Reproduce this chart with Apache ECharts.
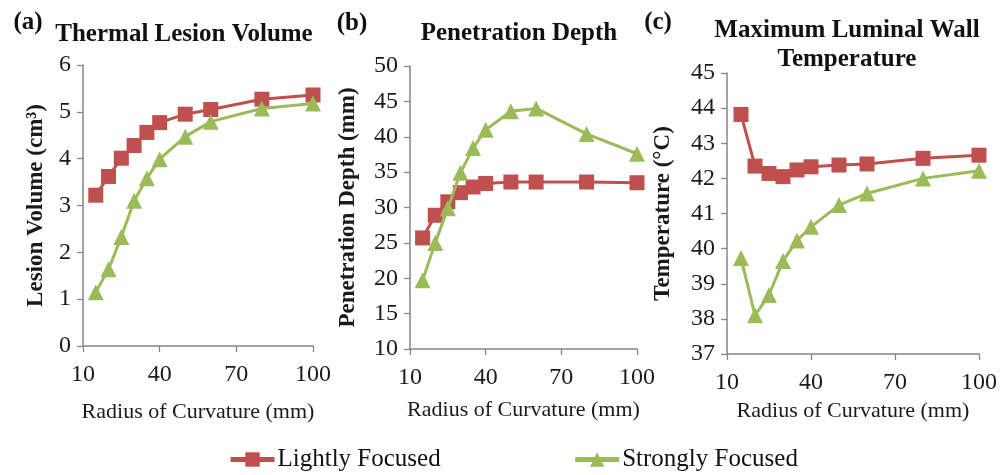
<!doctype html>
<html>
<head>
<meta charset="UTF-8">
<title>Radius of curvature</title>
<script src="https://cdn.jsdelivr.net/npm/echarts@6/dist/echarts.min.js"></script>
<style>
  html, body { margin: 0; padding: 0; background: #fff; }
  #main { width: 1003px; height: 475px; }
</style>
</head>
<body>
<div id="main"></div>
<script type="text/javascript">
// radius of curvature (mm)
var radius = [15, 20, 25, 30, 35, 40, 50, 60, 80, 100];

// (a) lesion volume, cm3
var volLight  = [3.22, 3.62, 4.01, 4.28, 4.56, 4.77, 4.95, 5.05, 5.27, 5.36];
var volStrong = [1.15, 1.64, 2.33, 3.10, 3.58, 3.99, 4.47, 4.79, 5.07, 5.18];

// (b) penetration depth, mm
var depLight  = [25.7, 28.9, 30.8, 32.1, 32.9, 33.4, 33.6, 33.6, 33.6, 33.5];
var depStrong = [19.7, 25.0, 29.9, 34.9, 38.4, 41.0, 43.6, 44.0, 40.4, 37.6];

// (c) max luminal wall temperature, C
var tmpLight  = [43.82, 42.35, 42.14, 42.05, 42.24, 42.33, 42.38, 42.41, 42.57, 42.66];
var tmpStrong = [39.73, 38.10, 38.68, 39.65, 40.23, 40.62, 41.24, 41.57, 42.00, 42.22];

var xTicks = [10, 40, 70, 100];

var RED = '#C0504D', GREEN = '#9BBB59', AXIS = '#868686';
var FONT = 'Liberation Serif';

function pairs(ys) {
  var out = [];
  for (var i = 0; i < radius.length; i++) out.push([radius[i], ys[i]]);
  return out;
}

function xAxisFor(idx, gap) {
  return {
    type: 'value', gridIndex: idx, min: xTicks[0], max: xTicks[xTicks.length - 1], interval: 30,
    name: 'Radius of Curvature (mm)', nameLocation: 'middle', nameGap: gap,
    nameTextStyle: { fontFamily: FONT, fontSize: 22, color: '#1a1a1a' },
    axisLine: { lineStyle: { color: AXIS, width: 1.5 } },
    axisTick: { show: true, length: 6, lineStyle: { color: AXIS, width: 1.3 } },
    axisLabel: { fontFamily: FONT, fontSize: 24, color: '#1a1a1a', margin: 17 },
    splitLine: { show: false }
  };
}

function yAxisFor(idx, name, min, max, step, gap) {
  return {
    type: 'value', gridIndex: idx, min: min, max: max, interval: step,
    name: name, nameLocation: 'middle', nameGap: gap,
    nameTextStyle: { fontFamily: FONT, fontSize: 23, fontWeight: 'bold', color: '#1a1a1a' },
    axisLine: { show: true, lineStyle: { color: AXIS, width: 1.5 } },
    axisTick: { show: true, length: 6, lineStyle: { color: AXIS, width: 1.3 } },
    axisLabel: { fontFamily: FONT, fontSize: 24, color: '#1a1a1a', margin: 12 },
    splitLine: { show: false }
  };
}

function lineSeries(name, idx, ys, color, symbol, size) {
  return {
    name: name, type: 'line', xAxisIndex: idx, yAxisIndex: idx,
    data: pairs(ys), symbol: symbol, symbolSize: size, showAllSymbol: true,
    lineStyle: { color: color, width: 3 },
    itemStyle: { color: color },
    emphasis: { disabled: true },
    animation: false, z: symbol === 'rect' ? 2 : 3
  };
}

function titleAt(text, x, y, size) {
  return {
    text: text, left: x, top: y, textAlign: 'center',
    textStyle: { fontFamily: FONT, fontSize: size, fontWeight: 'bold', color: '#111', lineHeight: 29 }
  };
}

var chart = echarts.init(document.getElementById('main'));
var option = {
  backgroundColor: '#fff',
  animation: false,
  title: [
    titleAt('(a)', 23, 3, 25),
    titleAt('Thermal Lesion Volume', 179, 15, 25),
    titleAt('(b)', 347, 4, 25),
    titleAt('Penetration Depth', 514, 14, 25),
    titleAt('(c)', 653, 3, 25),
    titleAt('Maximum Luminal Wall\nTemperature', 842, 11, 25)
  ],
  grid: [
    { left: 83,  top: 65, width: 230, height: 281 },
    { left: 410, top: 66, width: 227, height: 283 },
    { left: 727, top: 73, width: 252, height: 281 }
  ],
  xAxis: [xAxisFor(0, 55), xAxisFor(1, 50), xAxisFor(2, 46)],
  yAxis: [
    yAxisFor(0, 'Lesion Volume (cm³)', 0, 6, 1, 35),
    yAxisFor(1, 'Penetration Depth (mm)', 10, 50, 5, 50),
    yAxisFor(2, 'Temperature (°C)', 37, 45, 1, 52)
  ],
  legend: {
    left: 228, top: 447, padding: 0, itemWidth: 44, itemHeight: 18, itemGap: 132,
    data: ['Lightly Focused', 'Strongly Focused'],
    lineStyle: { width: 5 },
    textStyle: { fontFamily: FONT, fontSize: 25, color: '#111', padding: [0, 0, 0, -2] }
  },
  series: [
    lineSeries('Lightly Focused', 0, volLight, RED, 'rect', 15),
    lineSeries('Strongly Focused', 0, volStrong, GREEN, 'triangle', 16),
    lineSeries('Lightly Focused', 1, depLight, RED, 'rect', 15),
    lineSeries('Strongly Focused', 1, depStrong, GREEN, 'triangle', 16),
    lineSeries('Lightly Focused', 2, tmpLight, RED, 'rect', 15),
    lineSeries('Strongly Focused', 2, tmpStrong, GREEN, 'triangle', 16)
  ]
};
chart.setOption(option);
</script>
</body>
</html>
